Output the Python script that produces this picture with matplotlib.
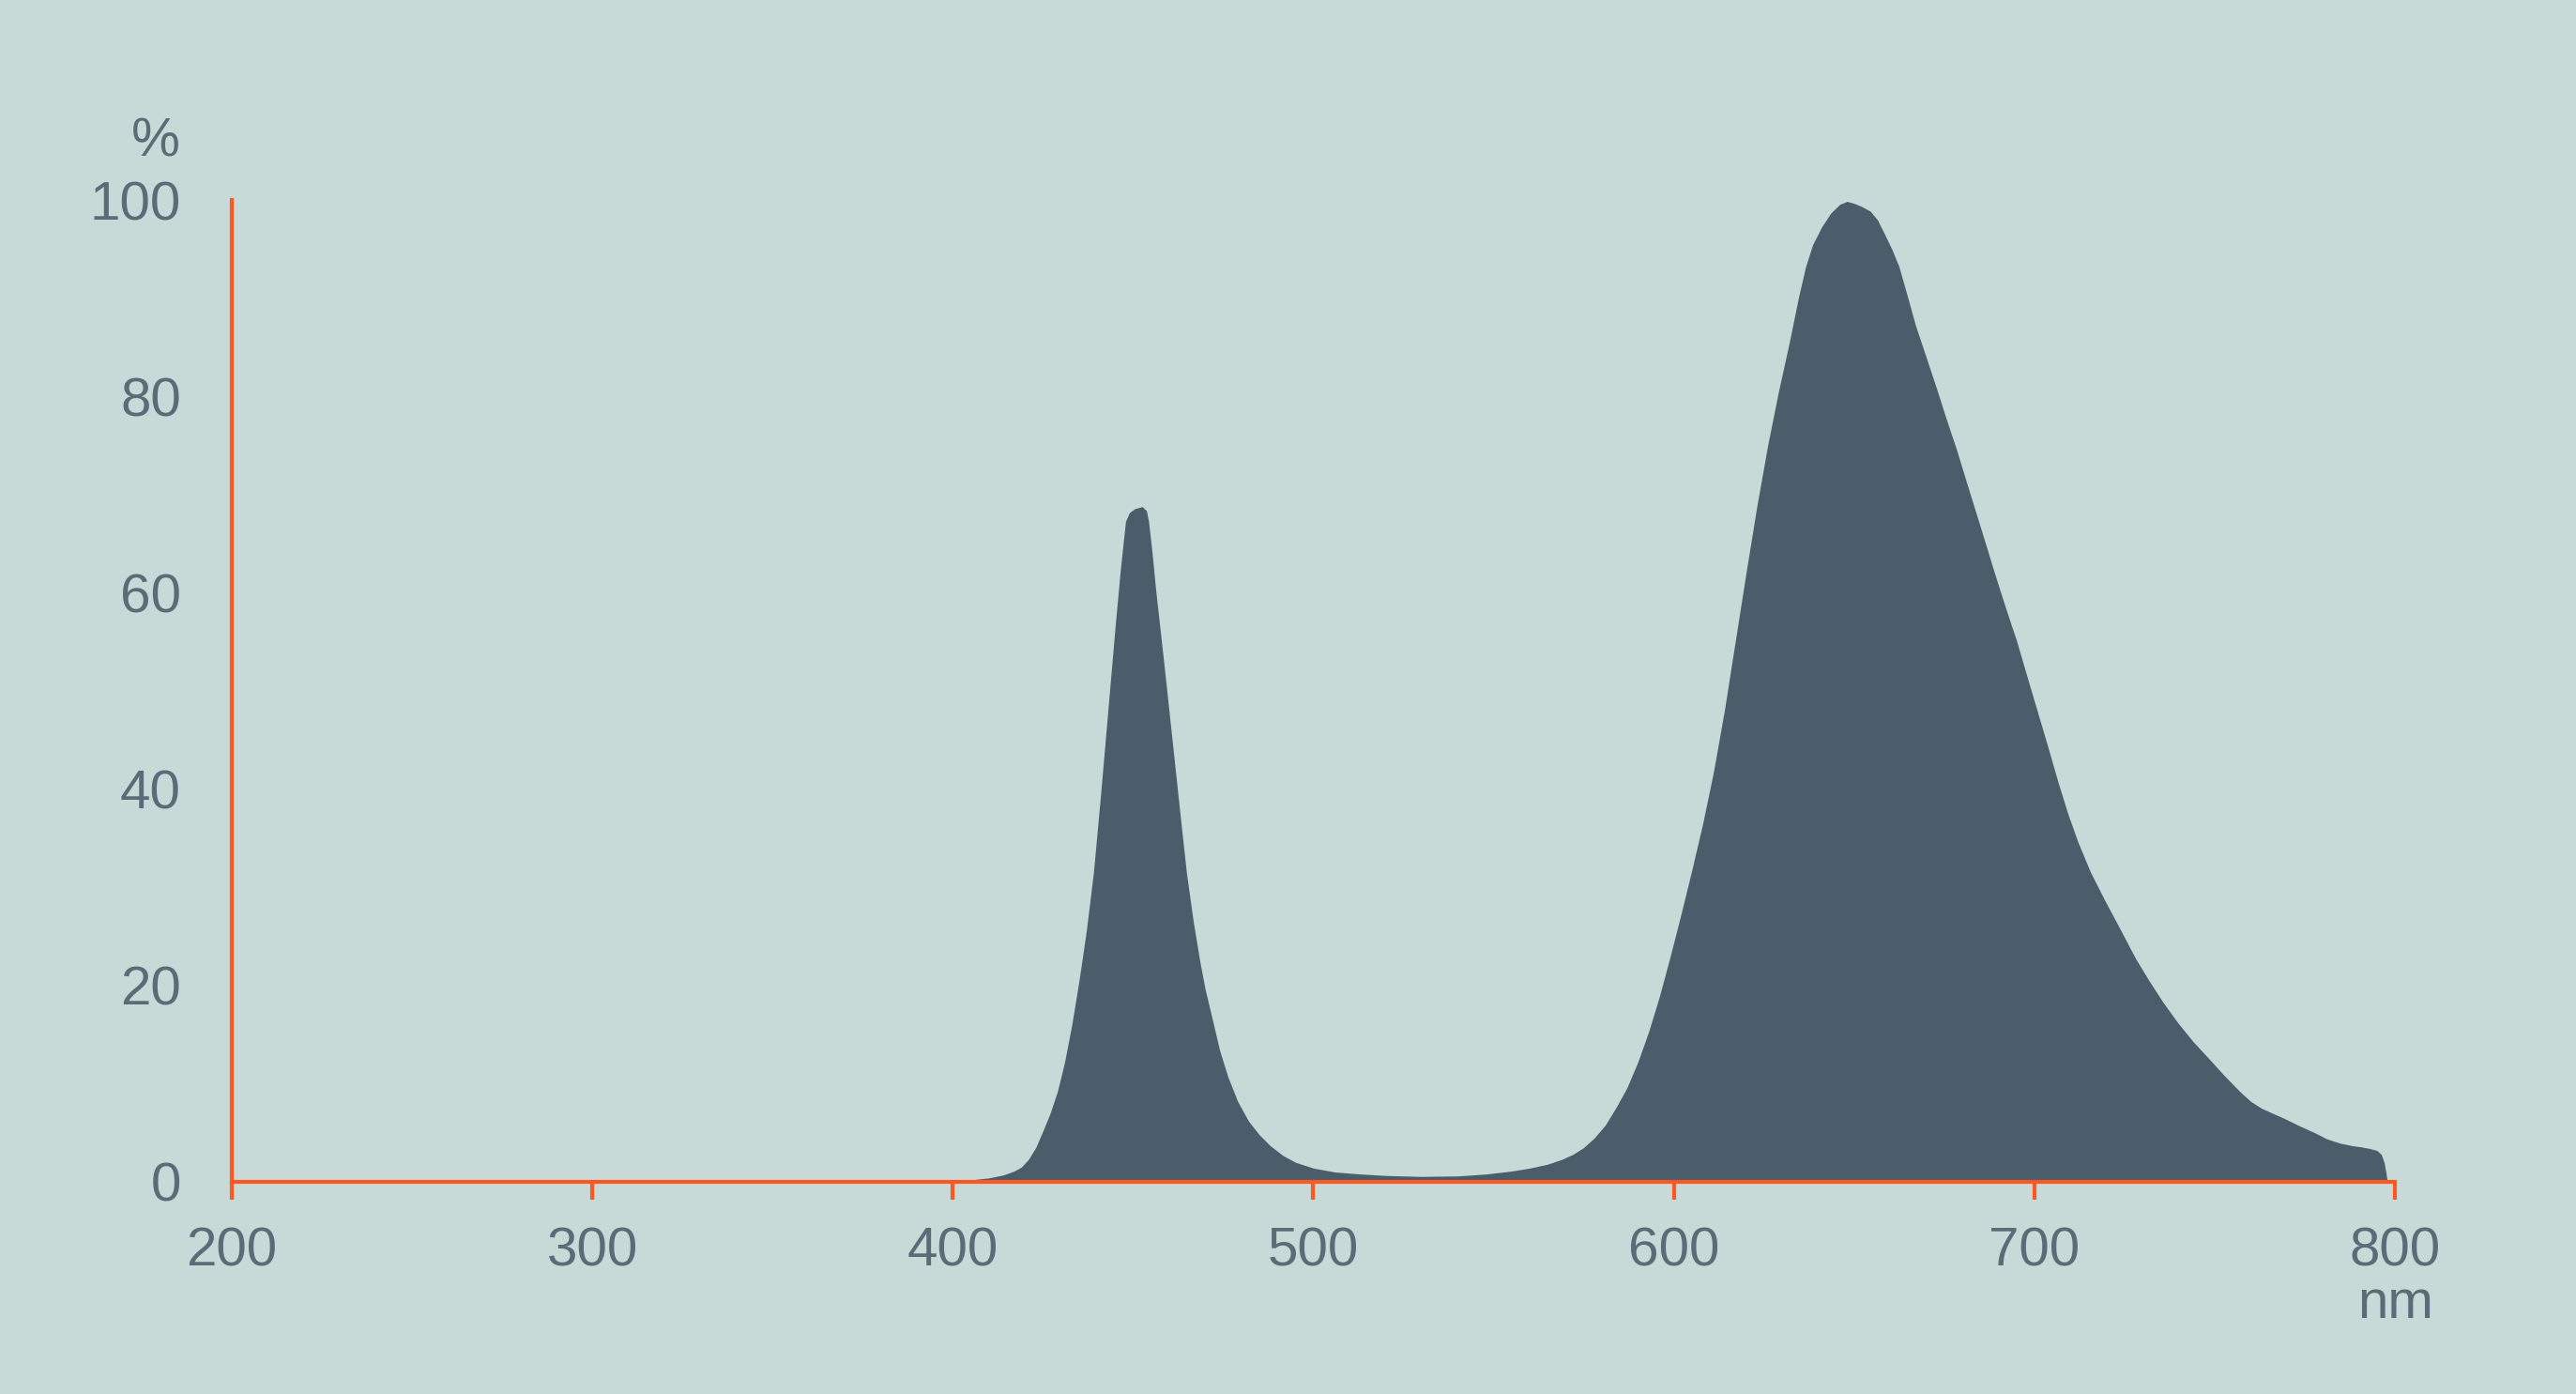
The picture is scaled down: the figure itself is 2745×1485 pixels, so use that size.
import matplotlib.pyplot as plt

# spectrum (nm, %)
wavelength = [399, 405, 410, 414, 417, 419, 421, 423, 425, 427,
              429, 431, 433, 435, 437, 439, 441, 443, 445, 446.5,
              447.9, 449, 450.5, 452.5, 453.7, 454.3, 455.3, 456.3, 457.8, 459.2,
              460.6, 462, 463.4, 464.8, 466.7, 468.5, 470, 471.7, 474, 476.3,
              479, 482, 485, 488, 491.5, 495, 500, 506, 513, 520,
              530, 540, 548, 555, 560, 565, 569, 572, 575, 578,
              581, 584, 587, 590, 593, 596, 599, 602, 605, 608,
              611, 614, 617, 620, 623, 626, 629, 632, 634.5, 636.5,
              638.5, 641, 643.5, 646, 648, 650, 652, 654.5, 656.5, 658.4,
              660.5, 662.4, 664.5, 667, 670, 672.8, 675.5, 678.5, 682, 685.3,
              688.8, 692, 695, 699, 703.6, 706.5, 709.2, 712, 715.5, 719.5,
              724, 728, 731.8, 735.5, 739.6, 744, 748.3, 752.5, 757, 760,
              763, 766, 769.1, 773, 777.8, 781, 784.7, 788, 790.8, 793,
              795, 796.2, 797, 797.5, 797.9]
intensity = [0, 0.2, 0.4, 0.7, 1.1, 1.5, 2.3, 3.5, 5.2, 7.0,
             9.2, 12.2, 16.0, 20.5, 25.5, 31.5, 39.5, 48.0, 56.5, 62.5,
             67.3, 68.2, 68.6, 68.8, 68.4, 67.3, 64.0, 60.2, 55.3, 50.6,
             45.8, 41.0, 36.2, 31.5, 26.5, 22.5, 19.6, 17.0, 13.4, 10.7,
             8.2, 6.2, 4.8, 3.7, 2.7, 2.0, 1.4, 1.0, 0.8, 0.65,
             0.55, 0.6, 0.8, 1.1, 1.4, 1.8, 2.3, 2.8, 3.5, 4.5,
             5.8, 7.6, 9.6, 12.2, 15.3, 18.9, 23.0, 27.3, 31.8, 36.5,
             41.8, 48.0, 55.0, 62.0, 68.8, 75.0, 80.5, 85.5, 90.0, 93.2,
             95.5, 97.3, 98.7, 99.6, 99.9, 99.7, 99.4, 98.9, 98.0, 96.6,
             95.0, 93.3, 90.6, 87.3, 84.0, 80.9, 77.8, 74.5, 70.3, 66.4,
             62.2, 58.5, 55.2, 50.2, 44.5, 40.8, 37.6, 34.7, 31.6, 28.7,
             25.6, 22.8, 20.5, 18.4, 16.3, 14.3, 12.6, 10.9, 9.2, 8.2,
             7.5, 7.0, 6.5, 5.8, 5.0, 4.4, 3.95, 3.7, 3.55, 3.4,
             3.2, 2.8, 2.0, 1.0, 0]

xticks = [200, 300, 400, 500, 600, 700, 800]
yticks = [0, 20, 40, 60, 80, 100]

bg = "#c8dad7"
fill_color = "#4b5d6a"
axis_color = "#ff5722"
text_color = "#5b6b77"

plt.rcParams['font.family'] = ['Liberation Sans', 'DejaVu Sans']

fig = plt.figure(figsize=(27.45, 14.85), dpi=100, facecolor=bg)
ax = fig.add_axes([0.08998, 0.15219, 0.83971, 0.70404])
ax.set_facecolor(bg)

ax.fill_between(wavelength, intensity, 0, color=fill_color, linewidth=0)

ax.set_xlim(200, 800)
ax.set_ylim(0, 100)
ax.set_xticks(xticks)
ax.set_yticks(yticks)

for side in ["top", "right"]:
    ax.spines[side].set_visible(False)
for side in ["left", "bottom"]:
    ax.spines[side].set_color(axis_color)
    ax.spines[side].set_linewidth(3)
    ax.spines[side].set_zorder(5)

ax.tick_params(axis="x", direction="out", length=14, width=3, color=axis_color,
               labelsize=42, labelcolor=text_color, pad=20)
ax.tick_params(axis="y", length=0, labelsize=42, labelcolor=text_color, pad=39)

fig.text(0.0699, 0.8882, "%", fontsize=42, color=text_color, ha="right", va="baseline")
fig.text(0.930, 0.0545, "nm", fontsize=42, color=text_color, ha="center", va="baseline")

fig.savefig("out.png", dpi=100, facecolor=bg)
